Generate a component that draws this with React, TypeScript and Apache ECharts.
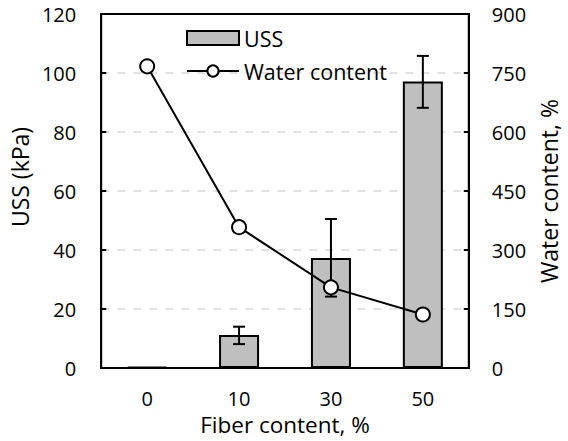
import React, { useEffect, useRef } from "react";
import * as echarts from "echarts";

const categories = ["0", "10", "30", "50"];
const ussValues = [0.4, 11.2, 37.3, 97.1];
const ussLow = [0.4, 8.1, 24.2, 88.2];
const ussHigh = [0.4, 14.0, 50.5, 105.8];
const waterValues = [767, 358, 205, 136];
const leftTicks = { min: 0, max: 120, interval: 20 };
const rightTicks = { min: 0, max: 900, interval: 150 };

const FONT = "Open Sans";

export default function App() {
  const ref = useRef<HTMLDivElement>(null);
  useEffect(() => {
    if (!ref.current) return;
    const chart = echarts.init(ref.current, undefined, { renderer: "svg" });
    const errData = categories.map((_, i) => [i, ussLow[i], ussHigh[i]]);
    chart.setOption({
      animation: false,
      backgroundColor: "#ffffff",
      textStyle: { fontFamily: FONT },
      grid: {
        left: 92,
        right: 94,
        top: 14,
        bottom: 73,
        show: true,
        borderColor: "#000",
        borderWidth: 2,
        backgroundColor: "transparent",
      },
      legend: {
        orient: "vertical",
        left: 186,
        top: 27,
        padding: 0,
        itemWidth: 52,
        itemHeight: 14,
        itemGap: 11,
        data: [
          { name: "USS", icon: "rect" },
          { name: "Water content" },
        ],
        textStyle: { fontFamily: FONT, fontSize: 21.5, color: "#000" },
      },
      xAxis: {
        type: "category",
        data: categories,
        name: "Fiber content, %",
        nameLocation: "middle",
        nameGap: 42,
        nameTextStyle: { fontFamily: FONT, fontSize: 22.5, color: "#000" },
        axisLine: { lineStyle: { color: "#000", width: 2 } },
        axisTick: { show: false },
        axisLabel: { fontFamily: FONT, fontSize: 20, color: "#000", margin: 20 },
      },
      yAxis: [
        {
          type: "value",
          min: leftTicks.min,
          max: leftTicks.max,
          interval: leftTicks.interval,
          name: "USS (kPa)",
          nameLocation: "middle",
          nameGap: 48,
          nameTextStyle: { fontFamily: FONT, fontSize: 23, color: "#000", padding: [0, 0, 0, 28] },
          axisLine: { show: true, lineStyle: { color: "#000", width: 2 } },
          axisTick: { show: true, inside: true, length: 5, lineStyle: { color: "#000", width: 2 } },
          axisLabel: { fontFamily: FONT, fontSize: 20, color: "#000", margin: 25 },
          splitLine: {
            show: true,
            showMinLine: false,
            showMaxLine: false,
            lineStyle: { color: "#d9d9d9", width: 1.5, type: [8, 8] },
          },
        },
        {
          type: "value",
          min: rightTicks.min,
          max: rightTicks.max,
          interval: rightTicks.interval,
          position: "right",
          name: "Water content, %",
          nameLocation: "middle",
          nameGap: 63,
          nameTextStyle: { fontFamily: FONT, fontSize: 23, color: "#000" },
          axisLine: { show: true, lineStyle: { color: "#000", width: 2 } },
          axisTick: { show: true, inside: true, length: 5, lineStyle: { color: "#000", width: 2 } },
          axisLabel: { fontFamily: FONT, fontSize: 20, color: "#000", margin: 23 },
          splitLine: { show: false },
        },
      ],
      series: [
        {
          name: "USS",
          type: "bar",
          data: ussValues,
          barWidth: 40,
          z: 2,
          itemStyle: { color: "#bfbfbf", borderColor: "#000", borderWidth: 2 },
        },
        {
          name: "err",
          type: "custom",
          data: errData,
          z: 3,
          renderItem: (params: any, api: any) => {
            const idx = api.value(0);
            const lo = api.coord([idx, api.value(1)]);
            const hi = api.coord([idx, api.value(2)]);
            if (Math.abs(lo[1] - hi[1]) < 1) return null;
            const half = 6;
            const style = { stroke: "#000", lineWidth: 2 };
            return {
              type: "group",
              children: [
                { type: "line", shape: { x1: lo[0], y1: lo[1], x2: hi[0], y2: hi[1] }, style },
                { type: "line", shape: { x1: lo[0] - half, y1: lo[1], x2: lo[0] + half, y2: lo[1] }, style },
                { type: "line", shape: { x1: hi[0] - half, y1: hi[1], x2: hi[0] + half, y2: hi[1] }, style },
              ],
            };
          },
        },
        {
          name: "Water content",
          type: "line",
          yAxisIndex: 1,
          data: waterValues,
          z: 4,
          symbol: "circle",
          symbolSize: 14,
          lineStyle: { color: "#000", width: 2 },
          itemStyle: { color: "#fff", borderColor: "#000", borderWidth: 2 },
        },
      ],
    });
    return () => chart.dispose();
  }, []);
  return (
    <div
      ref={ref}
      style={{ position: "fixed", left: 0, top: 0, width: 568, height: 441 }}
    />
  );
}
